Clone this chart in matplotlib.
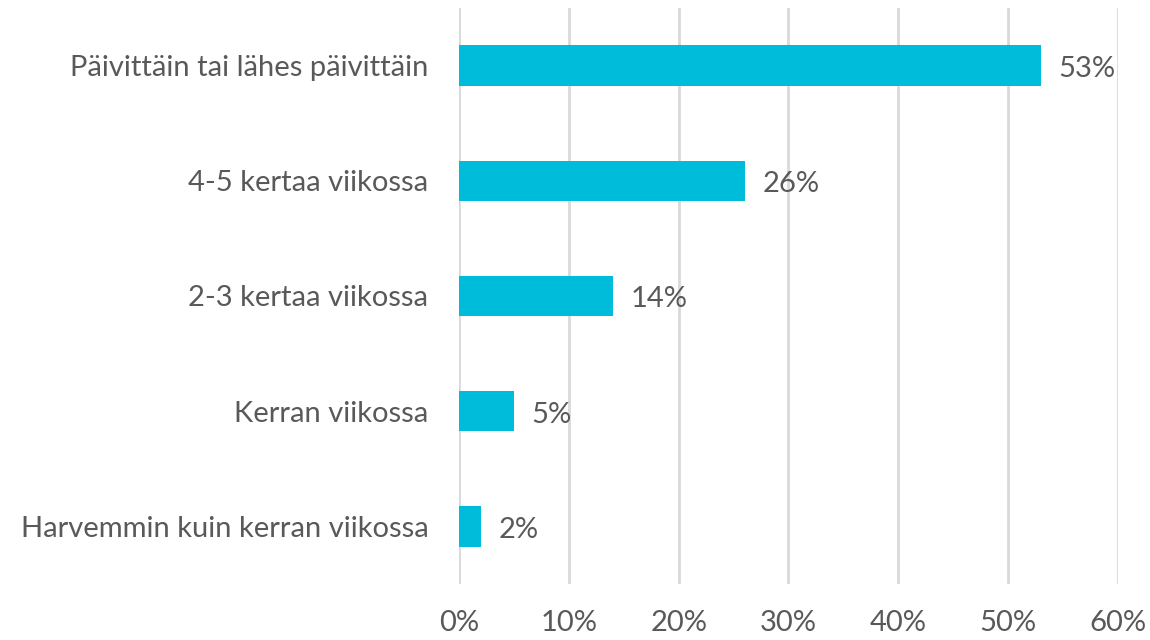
import matplotlib
matplotlib.use('Agg')
from matplotlib import pyplot as plt

categories = ['Päivittäin tai lähes päivittäin', '4-5 kertaa viikossa',
              '2-3 kertaa viikossa', 'Kerran viikossa',
              'Harvemmin kuin kerran viikossa']
values = [53, 26, 14, 5, 2]
xticks = [0, 10, 20, 30, 40, 50, 60]

plt.rcParams['font.family'] = ['Lato', 'DejaVu Sans']
text_color = '#595959'
fs = 21

fig = plt.figure(figsize=(11.5, 6.4), dpi=100)
ax = fig.add_axes([0.3991, 0.0875, 0.5731, 0.9])

pos = list(range(len(categories)))
ax.barh(pos, values, height=0.35, color='#00BCDB', zorder=3)
for p, v in zip(pos, values):
    ax.text(v + 1.6, p + 0.03, f'{v}%', va='center', ha='left', fontsize=fs,
            color=text_color)

ax.set_ylim(len(categories) - 0.5, -0.5)
ax.set_yticks(pos)
ax.set_yticklabels(categories, fontsize=fs, color=text_color)
ax.set_xlim(0, 60)
ax.set_xticks(xticks)
ax.set_xticklabels([f'{t}%' for t in xticks], fontsize=fs, color=text_color)
ax.tick_params(axis='both', length=0)
ax.tick_params(axis='y', pad=22)
ax.tick_params(axis='x', pad=19)
ax.grid(axis='x', color='#D9D9D9', linewidth=2, zorder=0)
for s in ax.spines.values():
    s.set_visible(False)

fig.savefig('out.png', dpi=100)
